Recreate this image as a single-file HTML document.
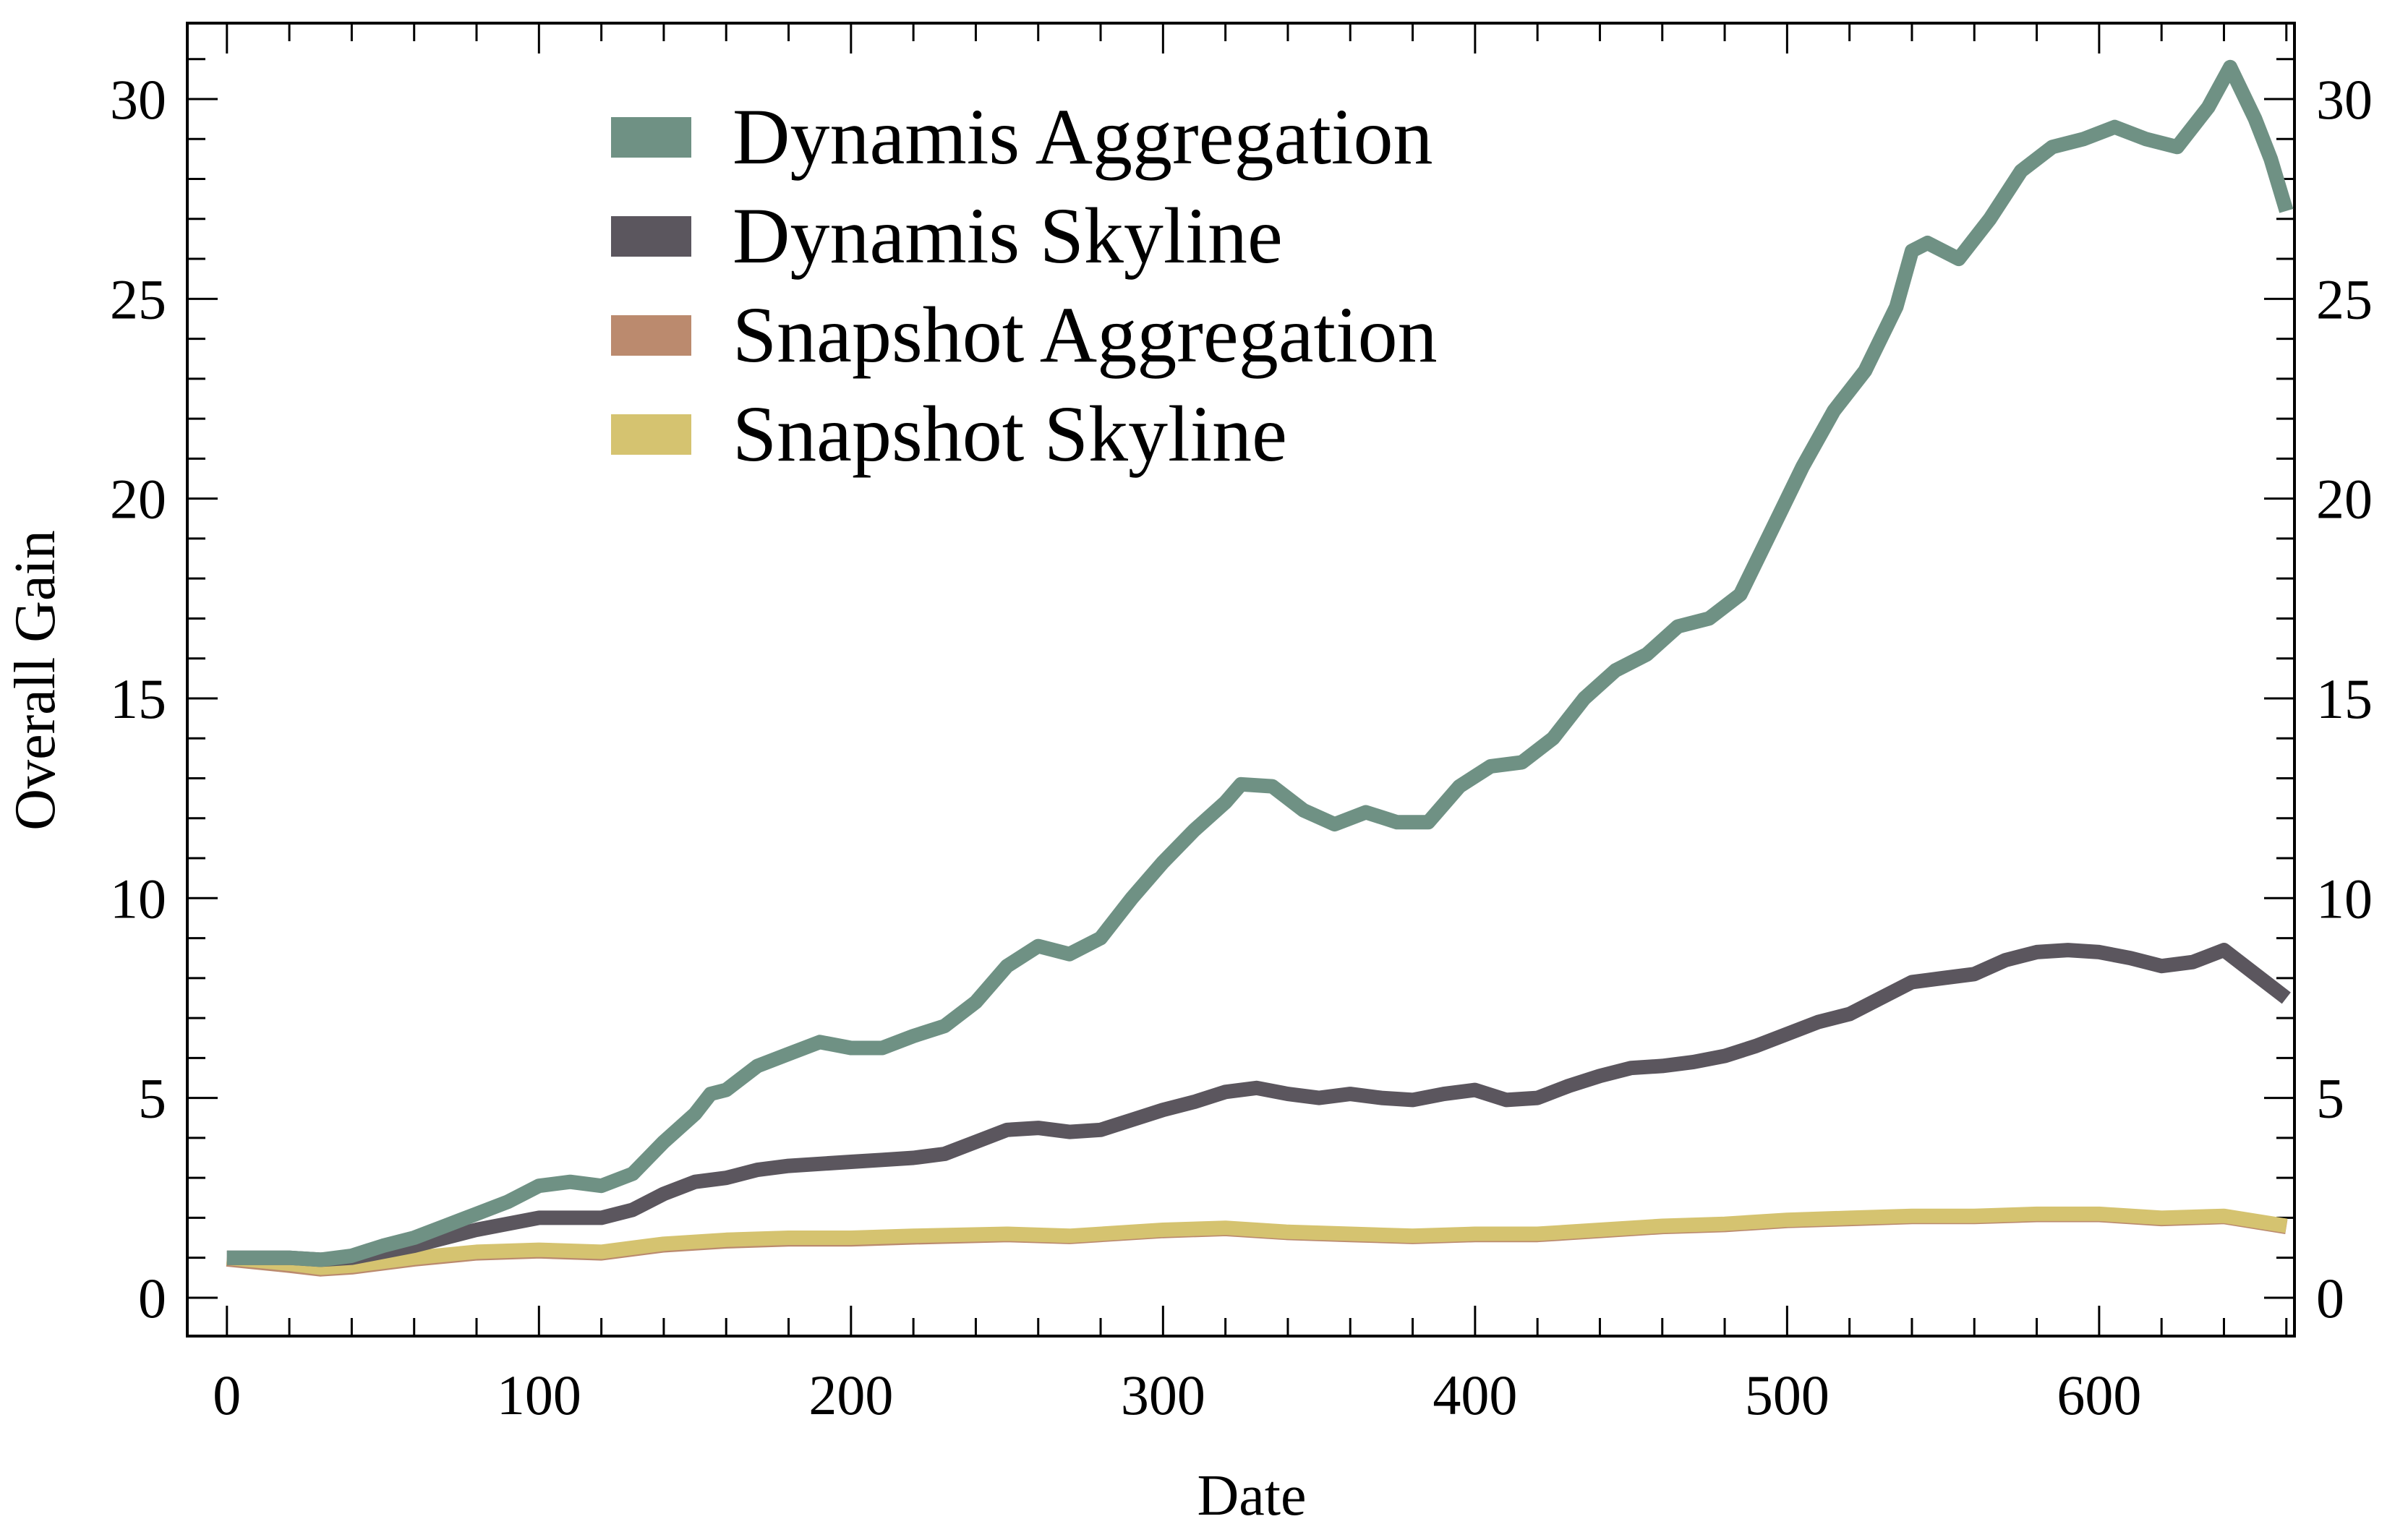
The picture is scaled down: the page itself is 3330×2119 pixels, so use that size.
<!DOCTYPE html>
<html><head><meta charset="utf-8"><style>
html,body{margin:0;padding:0;background:#fff;}
svg{display:block;font-family:"Liberation Serif",serif;}
</style></head><body>
<svg id="chart" width="3330" height="2119" viewBox="0 0 3330 2119" xmlns="http://www.w3.org/2000/svg">
<rect x="0" y="0" width="3330" height="2119" fill="#fff"/>
<g id="axes"></g>
<g id="series"></g>
<g id="legend"></g>
<text x="1731" y="2095" font-size="80" text-anchor="middle">Date</text>
<text x="75" y="941" font-size="80" text-anchor="middle" transform="rotate(-90 75 941)">Overall Gain</text>
</svg>
<script>
const dynAggX=[0,10,20,30,40,50,60,70,80,90,100,110,120,130,140,150,155,160,170,180,190,200,210,220,230,240,250,260,270,280,290,300,310,320,325,335,345,355,365,375,385,395,405,415,425,435,445,455,465,475,485,495,505,515,525,535,540,545,555,565,575,585,595,605,615,625,635,642,650,655,660];
const dynAggY=[1.0,1.0,1.0,0.95,1.05,1.3,1.5,1.8,2.1,2.4,2.8,2.9,2.8,3.1,3.9,4.6,5.1,5.2,5.8,6.1,6.4,6.25,6.25,6.55,6.8,7.4,8.3,8.8,8.6,9.0,10.0,10.9,11.7,12.4,12.85,12.8,12.2,11.85,12.15,11.9,11.9,12.8,13.3,13.4,14.0,15.0,15.7,16.1,16.8,17.0,17.6,19.2,20.8,22.2,23.2,24.8,26.2,26.4,26.0,27.0,28.2,28.8,29.0,29.3,29.0,28.8,29.8,30.8,29.5,28.5,27.2];
const dynSkyX=[0,20,30,40,60,80,100,110,120,130,140,150,160,170,180,200,210,220,230,240,250,260,270,280,290,300,310,320,330,340,350,360,370,380,390,400,410,420,430,440,450,460,470,480,490,500,510,520,530,540,550,560,570,580,590,600,610,620,630,640,650,660];
const dynSkyY=[1.0,1.0,0.95,1.0,1.3,1.7,2.0,2.0,2.0,2.2,2.6,2.9,3.0,3.2,3.3,3.4,3.45,3.5,3.6,3.9,4.2,4.25,4.15,4.2,4.45,4.7,4.9,5.15,5.25,5.1,5.0,5.1,5.0,4.95,5.1,5.2,4.95,5.0,5.3,5.55,5.75,5.8,5.9,6.05,6.3,6.6,6.9,7.1,7.5,7.9,8.0,8.1,8.45,8.65,8.7,8.65,8.5,8.3,8.4,8.7,8.1,7.5];
const snapX=[0,20,30,40,60,80,100,120,140,160,180,200,220,250,270,300,320,340,360,380,400,420,440,460,480,500,520,540,560,580,600,620,640,660];
const snapAggY=[0.96,0.8,0.71,0.76,0.96,1.11,1.16,1.11,1.31,1.41,1.46,1.46,1.51,1.57,1.52,1.67,1.72,1.62,1.57,1.52,1.57,1.57,1.67,1.77,1.82,1.92,1.97,2.02,2.02,2.07,2.07,1.97,2.02,1.77];
const snapSkyY=[1.0,0.85,0.75,0.8,1.0,1.15,1.2,1.15,1.35,1.45,1.5,1.5,1.55,1.6,1.55,1.7,1.75,1.65,1.6,1.55,1.6,1.6,1.7,1.8,1.85,1.95,2.0,2.05,2.05,2.1,2.1,2.0,2.05,1.8];
const xTicks=[0,100,200,300,400,500,600];
const yTicks=[0,5,10,15,20,25,30];

const L=259,R=3173,T=32,B=1848;
const X0=-12.7,X1=662.6,Y0=-0.96,Y1=31.9;
const sx=v=>L+(v-X0)/(X1-X0)*(R-L);
const sy=v=>B-(v-Y0)/(Y1-Y0)*(B-T);
const NS='http://www.w3.org/2000/svg';
function mk(tag,attrs,parent){const e=document.createElementNS(NS,tag);for(const k in attrs)e.setAttribute(k,attrs[k]);parent.appendChild(e);return e;}
const axes=document.getElementById('axes');
const frame=mk('rect',{x:L,y:T,width:R-L,height:B-T,fill:'none',stroke:'#000','stroke-width':4},axes);


for(let v=0;v<=660;v+=20){
  const major=v%100===0,len=major?42:25,x=sx(v);
  const t1=mk('line',{x1:x,y1:B,x2:x,y2:B-len,stroke:'#000','stroke-width':3},axes);
  
  
  const t2=mk('line',{x1:x,y1:T,x2:x,y2:T+len,stroke:'#000','stroke-width':3},axes);
  
  
}
xTicks.forEach(v=>{
  const t=mk('text',{x:sx(v),y:1956,'font-size':78,'text-anchor':'middle'},axes);t.textContent=v;
  
  
});
for(let v=0;v<=31;v+=1){
  const major=v%5===0,len=major?42:25,y=sy(v);
  const t1=mk('line',{x1:L,y1:y,x2:L+len,y2:y,stroke:'#000','stroke-width':3},axes);
  
  
  const t2=mk('line',{x1:R,y1:y,x2:R-len,y2:y,stroke:'#000','stroke-width':3},axes);
  
  
}
yTicks.forEach(v=>{
  const a=mk('text',{x:230,y:sy(v)+27,'font-size':78,'text-anchor':'end'},axes);a.textContent=v;
  
  
  const b=mk('text',{x:3203,y:sy(v)+27,'font-size':78,'text-anchor':'start'},axes);b.textContent=v;
  
  
});
const series=document.getElementById('series');
function line(xs,ys,color,name){
  const d=xs.map((x,i)=>(i?'L':'M')+sx(x).toFixed(1)+','+sy(ys[i]).toFixed(1)).join(' ');
  const p=mk('path',{d:d,fill:'none',stroke:color,'stroke-width':20,'stroke-linejoin':'round'},series);
  
  
}
line(snapX,snapAggY,'#bb8a6e','snapshot-aggregation-line');
line(snapX,snapSkyY,'#d5c370','snapshot-skyline-line');
line(dynSkyX,dynSkyY,'#5b565e','dynamis-skyline-line');
line(dynAggX,dynAggY,'#6f9184','dynamis-aggregation-line');
const legend=document.getElementById('legend');
const names=['Dynamis Aggregation','Dynamis Skyline','Snapshot Aggregation','Snapshot Skyline'];
const colors=['#6f9184','#5b565e','#bb8a6e','#d5c370'];
const rowY=[190,327,464,601];
names.forEach((n,i)=>{
  const r=mk('rect',{x:845,y:rowY[i]-28,width:111,height:56,fill:colors[i]},legend);
  
  
  const t=mk('text',{x:1013,y:rowY[i]+36,'font-size':110},legend);t.textContent=n;
  
  
});
</script>
</body></html>
